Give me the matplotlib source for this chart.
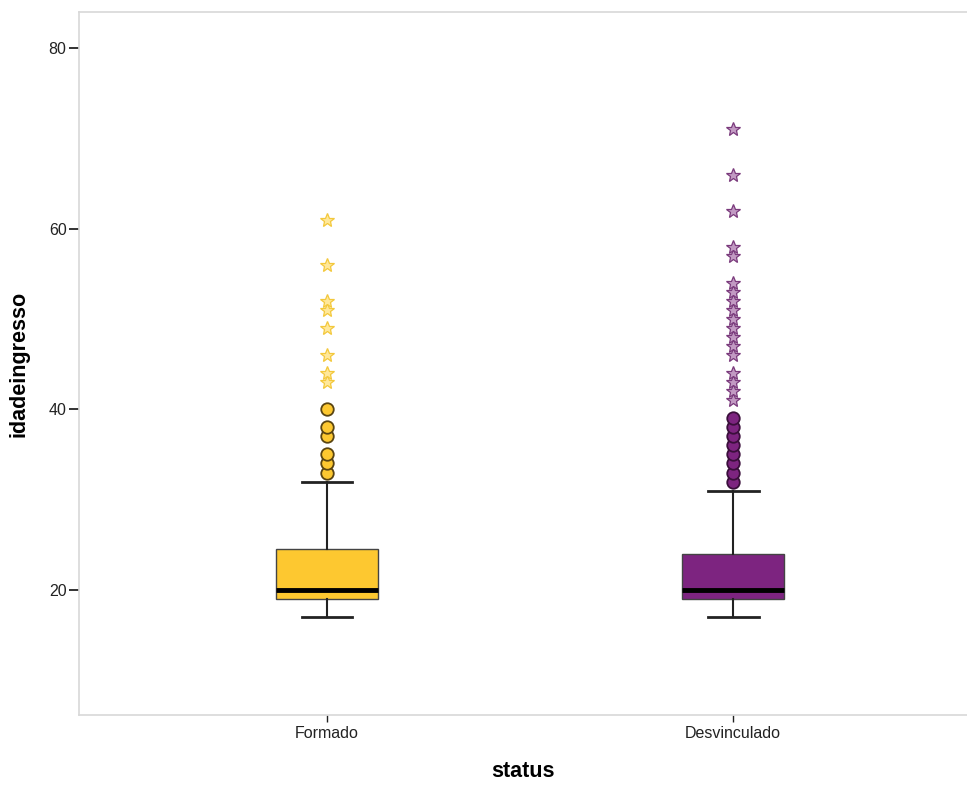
import matplotlib.pyplot as plt

# Data
categories = ["Formado", "Desvinculado"]
q1 = [19, 19]
medians = [20, 20]
q3 = [24.5, 24]
whisker_low = [17, 17]
whisker_high = [32, 31]

# outliers (circles) and extreme values (stars)
outliers_formado = [33, 34, 35, 37, 38, 40]
extremes_formado = [43, 44, 46, 49, 51, 52, 56, 61]
outliers_desv = [32, 33, 34, 35, 36, 37, 38, 39]
extremes_desv = [41, 42, 43, 44, 46, 47, 48, 49, 50, 51, 52, 53, 54, 57, 58, 62, 66, 71]

box_colors = ["#FDC830", "#7D2480"]
circle_edges = ["#5A4512", "#3A0F3B"]
star_faces = ["#FFE89A", "#C29AC3"]
star_edges = ["#F3C83C", "#7A3A7C"]

plt.rcParams["font.family"] = ["Liberation Sans", "DejaVu Sans"]

fig = plt.figure(figsize=(9.67, 7.85), dpi=100)
ax = fig.add_axes([0.0817, 0.0892, 0.9183, 0.8955])

positions = [1, 2]
stats = []
for i, name in enumerate(categories):
    stats.append({
        "label": name,
        "q1": q1[i],
        "med": medians[i],
        "q3": q3[i],
        "whislo": whisker_low[i],
        "whishi": whisker_high[i],
        "fliers": [],
    })

bp = ax.bxp(
    stats,
    positions=positions,
    widths=0.25,
    patch_artist=True,
    showfliers=False,
    boxprops=dict(edgecolor="#444444", linewidth=1),
    medianprops=dict(color="black", linewidth=3.5, solid_capstyle="butt"),
    whiskerprops=dict(color="#222222", linewidth=1.5),
    capprops=dict(color="#222222", linewidth=2),
    capwidths=0.125,
    zorder=2,
)
for patch, c in zip(bp["boxes"], box_colors):
    patch.set_facecolor(c)

circles = [outliers_formado, outliers_desv]
stars = [extremes_formado, extremes_desv]
for i, pos in enumerate(positions):
    ax.plot([pos] * len(circles[i]), circles[i], "o", markersize=9,
            markerfacecolor=box_colors[i], markeredgecolor=circle_edges[i],
            markeredgewidth=1.3, linestyle="none", zorder=3)
    ax.plot([pos] * len(stars[i]), stars[i], "*", markersize=10.5,
            markerfacecolor=star_faces[i], markeredgecolor=star_edges[i],
            markeredgewidth=0.9, linestyle="none", zorder=3)

ax.set_xlim(0.389, 2.576)
ax.set_ylim(6.15, 84)
ax.set_yticks([20, 40, 60, 80])
ax.set_xticks(positions)
ax.set_xticklabels(categories)

for side in ["left", "bottom", "top"]:
    ax.spines[side].set_color("#D8D8D8")
    ax.spines[side].set_linewidth(1.2)
ax.spines["right"].set_visible(False)

ax.tick_params(axis="y", length=7, width=1.3, color="#222222", labelsize=11.5,
               labelcolor="#222222", pad=2)
ax.tick_params(axis="x", length=5, width=1, color="#222222", labelsize=11.5,
               labelcolor="#222222", pad=3)

ax.set_ylabel("idadeingresso", fontsize=15.5, fontweight="bold", labelpad=14)
ax.set_xlabel("status", fontsize=15.5, fontweight="bold", labelpad=14)

fig.savefig("out.png", dpi=100)
